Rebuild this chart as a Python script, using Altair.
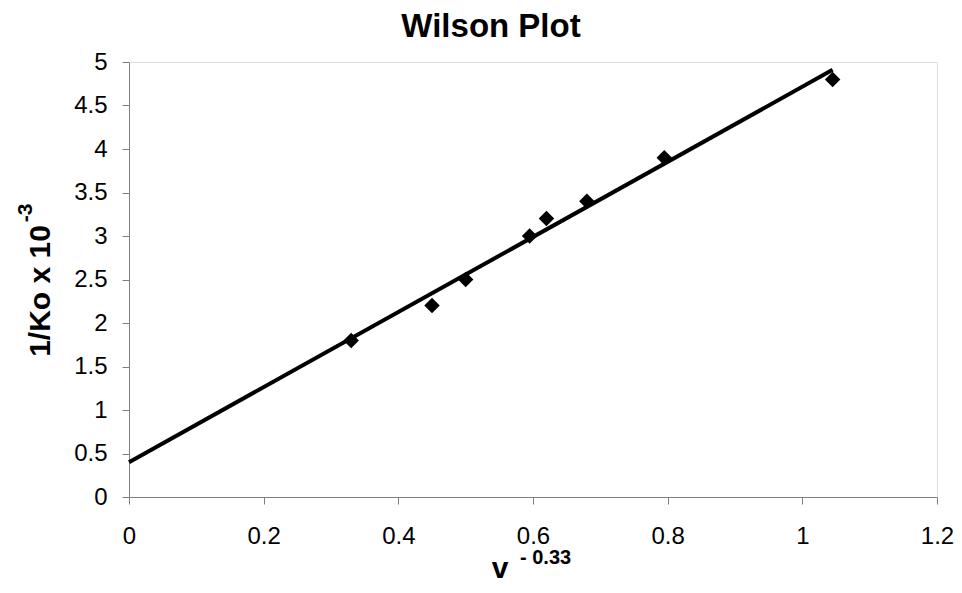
import altair as alt
import pandas as pd

# Data
x_points = [0.33, 0.45, 0.5, 0.595, 0.62, 0.68, 0.795, 1.045]
y_points = [1.8, 2.2, 2.5, 3.0, 3.2, 3.4, 3.9, 4.8]

x_fit = [0.0, 1.045]
y_fit = [0.4, 4.91]

x_ticks = [0, 0.2, 0.4, 0.6, 0.8, 1.0, 1.2]
y_ticks = [0, 0.5, 1, 1.5, 2, 2.5, 3, 3.5, 4, 4.5, 5]

title_text = "Wilson Plot"
y_title_main = "1/Ko x 10"
y_title_sup = "-3"
x_title_main = "v"
x_title_sup = "- 0.33"

FONT = "Liberation Sans"

pts = pd.DataFrame({"x": x_points, "y": y_points})
fit = pd.DataFrame({"x": x_fit, "y": y_fit})

xscale = alt.Scale(domain=[0, 1.2], nice=False, zero=False)
yscale = alt.Scale(domain=[0, 5], nice=False, zero=False)

xaxis = alt.Axis(values=x_ticks, format=".1~f", title=None, grid=False,
                 domainColor="#808080", tickColor="#808080", tickSize=7,
                 labelFont=FONT, labelFontSize=24, labelColor="#000000",
                 labelPadding=20, labelFlush=False)
yaxis = alt.Axis(values=y_ticks, format=".1~f", title=None, grid=False,
                 domainColor="#808080", tickColor="#808080", tickSize=7,
                 labelFont=FONT, labelFontSize=24, labelColor="#000000",
                 labelPadding=15, labelFlush=False)

line = alt.Chart(fit).mark_line(color="#000000", strokeWidth=4).encode(
    x=alt.X("x:Q", scale=xscale, axis=xaxis),
    y=alt.Y("y:Q", scale=yscale, axis=yaxis),
)

points = alt.Chart(pts).mark_point(shape="diamond", filled=True, size=240,
                                   color="#000000", opacity=1).encode(
    x=alt.X("x:Q", scale=xscale),
    y=alt.Y("y:Q", scale=yscale),
)

def label(text, x, y, size, angle=0, align="center", baseline="alphabetic"):
    return alt.Chart(pd.DataFrame({"t": [text]})).mark_text(
        font=FONT, fontSize=size, fontWeight="bold", color="#000000",
        angle=angle, align=align, baseline=baseline,
    ).encode(text="t:N", x=alt.value(x), y=alt.value(y))

title = label(title_text, 362, -25, 33)
ytitle = label(y_title_main, -79, 229, 30, angle=270)
ysup = label(y_title_sup, -97, 151, 21, angle=270)
xtitle = label(x_title_main, 371, 516, 30)
xsup = label(x_title_sup, 391, 502, 20, align="left")

chart = alt.layer(line, points, title, ytitle, ysup, xtitle, xsup).properties(
    width=808, height=435,
    padding={"left": 121, "top": 54, "right": 17, "bottom": 88},
    autosize=alt.AutoSizeParams(type="none"),
).configure_view(stroke="#9a9a9a", strokeWidth=1).configure(background="#ffffff")

chart.save("out.html", embed_options={"renderer": "svg", "actions": False})
